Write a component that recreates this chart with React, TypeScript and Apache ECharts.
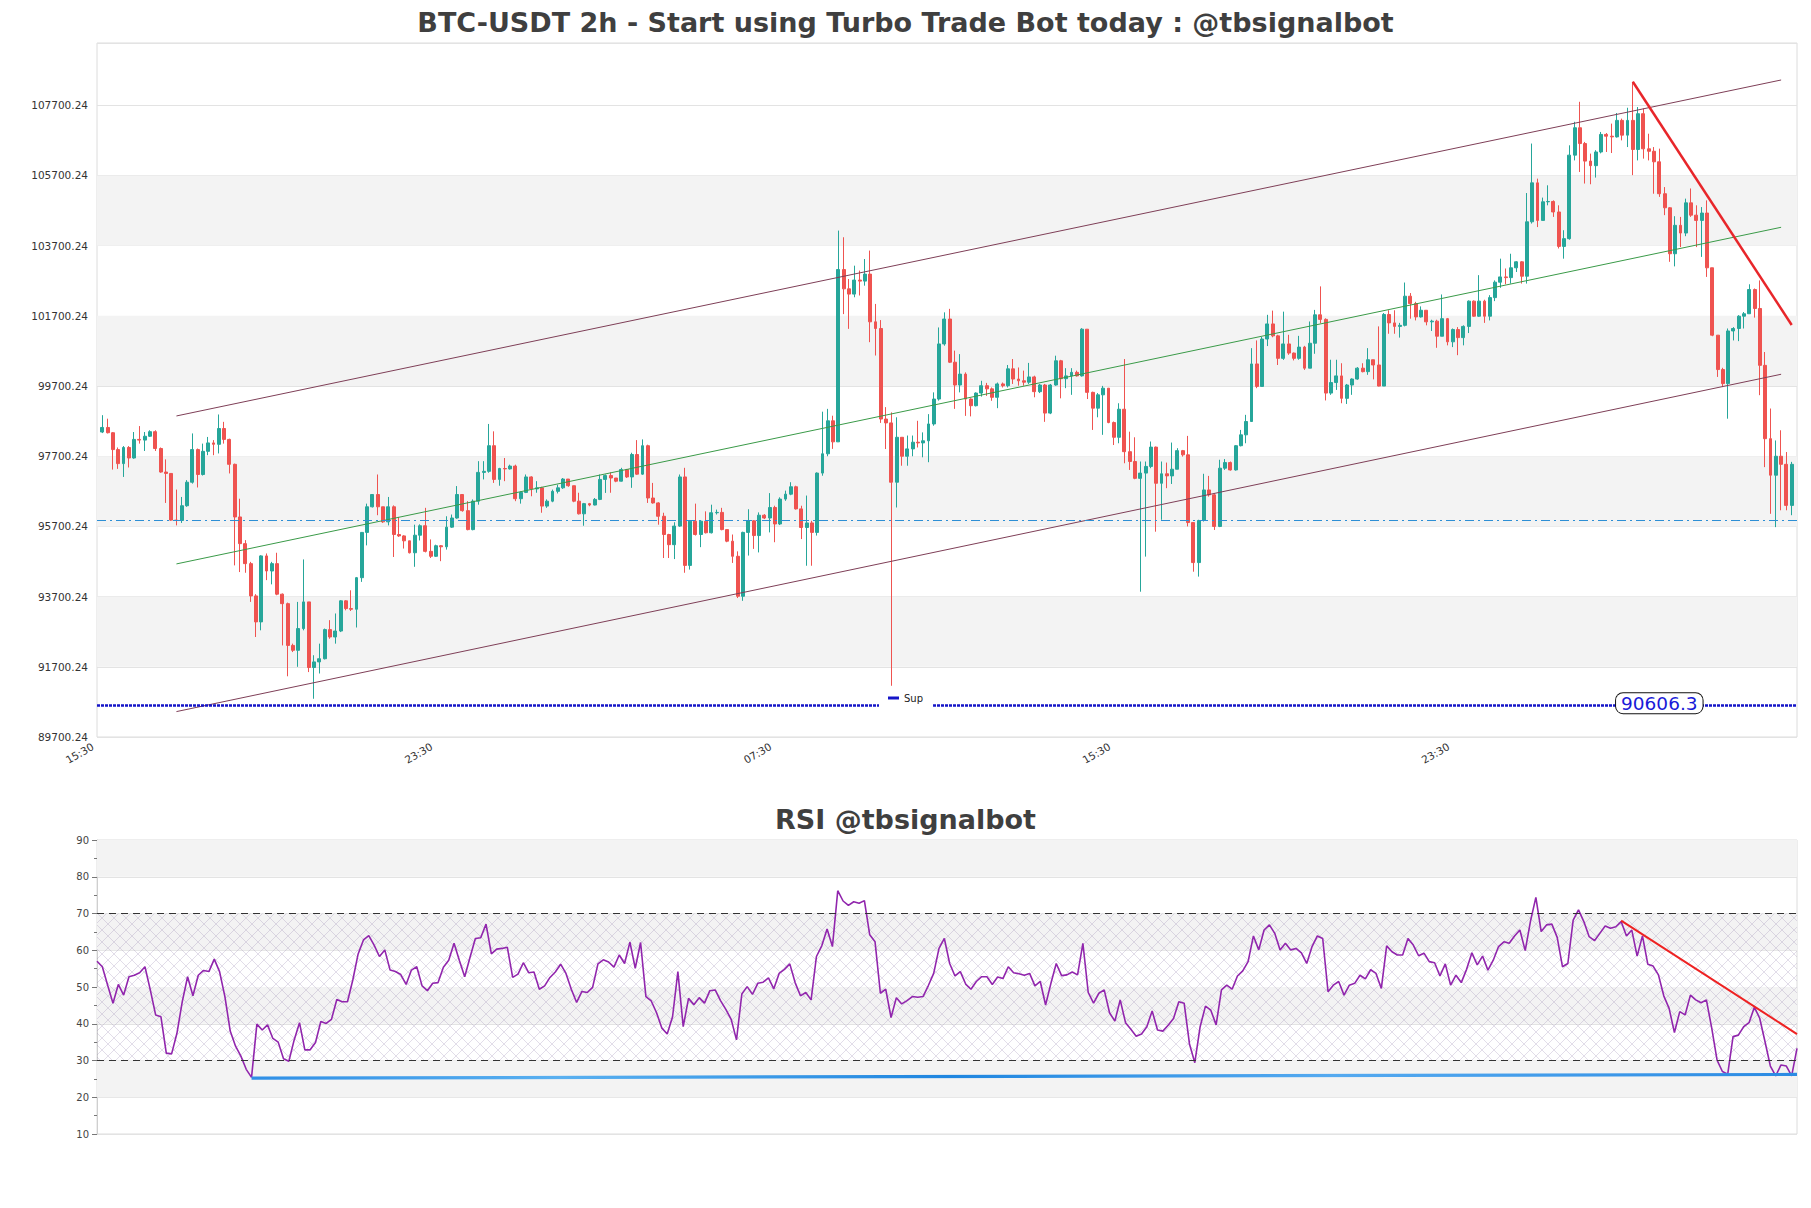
import React, { useEffect, useRef } from 'react';
import * as echarts from 'echarts';

// ---------- DATA ----------
const titleText = 'BTC-USDT 2h - Start using Turbo Trade Bot today : @tbsignalbot';
const rsiTitleText = 'RSI @tbsignalbot';

const firstOpen = 98390;
const closes = [
  98520, 98370, 97890, 97490, 97950, 97650, 98180, 98160, 98270, 98400,
  97920, 97250, 97210, 95880, 95870, 96290, 96960, 97890, 97180, 97840,
  98080, 98040, 98490, 98180, 97470, 95970, 95210, 94640, 93720, 92980,
  94860, 94430, 94640, 93770, 93500, 92310, 92170, 92790, 93550, 91680,
  91840, 91930, 92760, 92550, 92720, 93580, 93360, 93340, 94240, 95530,
  96260, 96610, 96260, 95830, 96260, 95470, 95430, 95290, 94950, 95450,
  95720, 94990, 94850, 95150, 95120, 95680, 95940, 96610, 96150, 95610,
  96420, 97240, 97270, 98000, 97040, 97350, 97340, 97420, 96490, 96670,
  97110, 96770, 96800, 96280, 96420, 96700, 96800, 97050, 96860, 96420,
  96060, 96350, 96310, 96470, 97040, 97150, 97080, 96990, 97320, 97110,
  97750, 97190, 98000, 96510, 96370, 95990, 95470, 95180, 95710, 97110,
  94590, 95850, 95470, 95850, 95520, 96090, 96100, 95610, 95280, 94850,
  93710, 95530, 95860, 95440, 96020, 95940, 96240, 95770, 96480, 96620,
  96830, 96200, 95670, 95800, 95530, 97220, 97770, 98710, 98110, 103020,
  102470, 102320, 102720, 102690, 102890, 101530, 101340, 98760, 98650, 96960,
  98240, 97700, 97910, 98100, 98080, 98140, 98620, 99330, 100900, 101610,
  100380, 99730, 100040, 99330, 99140, 99500, 99710, 99620, 99380, 99760,
  99710, 100190, 99900, 99850, 99810, 99960, 99540, 99730, 98930, 99730,
  100420, 99910, 99990, 100090, 99990, 101320, 99520, 99070, 99450, 99640,
  98660, 98240, 99040, 97830, 97550, 97070, 97220, 97410, 97960, 96930,
  97200, 97140, 97330, 97860, 97740, 95810, 94670, 95870, 96740, 96600,
  95700, 97360, 97520, 97310, 98000, 98310, 98690, 100330, 99690, 101040,
  101470, 101130, 100490, 100900, 100640, 100490, 100810, 100210, 100920, 101730,
  101600, 99500, 99800, 99990, 99350, 99730, 99900, 100210, 100110, 100450,
  100300, 99700, 101740, 101500, 101400, 101430, 102260, 102050, 101670, 101860,
  101530, 101550, 101120, 101620, 100960, 101310, 101080, 101400, 102120, 101690,
  102120, 101690, 102220, 102660, 102810, 102790, 103070, 103240, 102830, 104380,
  105490, 104420, 104950, 104960, 104660, 103680, 103900, 106280, 107060, 106610,
  106110, 105980, 106370, 106870, 106820, 106800, 107270, 106850, 107270, 106440,
  107460, 106460, 106390, 106090, 105180, 104780, 103470, 104280, 104060, 104920,
  104570, 104420, 104630, 103070, 101150, 100170, 99770, 101270, 101340, 101690,
  101760, 102450, 101910, 100290, 98200, 97160, 97700, 97470, 96300, 97470,
];
const highs = [
  98870, 98770, 98390, 97950, 97990, 97990, 98390, 98560, 98390, 98440,
  98440, 97950, 97610, 97210, 96750, 96540, 97020, 98350, 97920, 98060,
  98250, 98160, 98890, 98680, 98200, 97490, 96490, 95310, 94690, 93770,
  94880, 94930, 94690, 94950, 93790, 93530, 92360, 93550, 94760, 93550,
  92030, 92360, 92790, 93030, 93220, 93600, 93600, 93880, 94260, 95540,
  96350, 96610, 97180, 96260, 96540, 96300, 95970, 95450, 95290, 95750,
  95760, 96230, 95330, 95180, 95170, 95990, 96040, 96850, 96480, 96420,
  96470, 97560, 97560, 98620, 98410, 97370, 97650, 97460, 97460, 96700,
  97180, 97130, 96990, 96830, 96470, 96750, 96890, 97080, 97050, 96830,
  96660, 96370, 96370, 96510, 97180, 97180, 97240, 97050, 97370, 97340,
  97800, 98160, 98180, 98030, 96940, 96390, 96090, 95490, 95820, 97180,
  97370, 95880, 96350, 95880, 96130, 96320, 96180, 96230, 95590, 95470,
  94990, 95550, 96190, 95880, 96100, 96050, 96650, 96290, 96530, 96720,
  96960, 96860, 96290, 96580, 95860, 97240, 98970, 99050, 98855, 104130,
  103940, 102750, 103130, 102990, 103320, 103560, 102040, 101580, 99100, 98950,
  98810, 98190, 98290, 98290, 98710, 98380, 98900, 99520, 101370, 101800,
  101900, 100710, 100610, 100090, 99350, 99520, 99850, 99790, 99660, 99800,
  99800, 100300, 100470, 100230, 100140, 100360, 99995, 99760, 99760, 99760,
  100565, 100446, 100210, 100210, 100140, 101350, 101230, 99540, 99500, 99705,
  99640, 98690, 99210, 100470, 98400, 98240, 97550, 97550, 98120, 97976,
  97550, 97520, 98090, 97930, 97880, 98280, 95700, 95890, 97200, 97140,
  96646, 97600, 97620, 97550, 98020, 98450, 98880, 100780, 101000, 101100,
  101730, 101850, 101160, 101820, 101160, 100655, 101130, 100845, 101540, 101870,
  102540, 101630, 100450, 100450, 100350, 99760, 99920, 100240, 100350, 100780,
  100450, 101400, 101780, 101860, 101860, 101500, 102650, 102350, 102100, 101970,
  101860, 101590, 101590, 102310, 101640, 101340, 101380, 101430, 102140, 102140,
  102860, 102160, 102290, 102710, 103330, 103050, 103470, 103260, 103260, 105200,
  106610, 105610, 105070, 105420, 104990, 104850, 104140, 106560, 107230, 107800,
  106656, 106323, 106420, 106940, 106910, 107178, 107480, 107320, 107630, 108370,
  107650, 107610, 106890, 106510, 106465, 105370, 104800, 104540, 104520, 105040,
  105330, 104850, 104800, 104990, 102950, 101020, 100220, 101340, 101380, 101720,
  101810, 102600, 102480, 102710, 100670, 99060, 98150, 98440, 97820, 97540,
];
const lows = [
  98360, 98350, 97320, 97340, 97110, 97380, 97630, 98060, 97850, 98250,
  97850, 97230, 96370, 95860, 95730, 95800, 96260, 96920, 96810, 97150,
  97730, 97730, 97780, 98060, 97210, 94590, 94400, 94380, 93550, 92550,
  92740, 94170, 94050, 93740, 92310, 91430, 92120, 91700, 92740, 91550,
  90790, 91510, 91910, 92500, 92360, 92690, 93310, 93290, 92820, 94120,
  95160, 96240, 96020, 95800, 95730, 94830, 95400, 95070, 94930, 94550,
  95300, 94960, 94800, 94830, 94710, 95040, 95660, 95920, 96120, 95590,
  95590, 96320, 97040, 97230, 96940, 96860, 96990, 97320, 96420, 96350,
  96650, 96560, 96660, 96090, 96230, 96390, 96640, 96770, 96830, 96390,
  96040, 95720, 96275, 96300, 96450, 96655, 96660, 96960, 96980, 97080,
  96800, 97170, 97170, 96370, 96350, 95750, 94800, 94800, 94770, 95690,
  94380, 94470, 95440, 95110, 95500, 95500, 96040, 95590, 95250, 94660,
  93660, 93580, 94870, 95060, 94960, 95910, 95530, 95250, 95740, 96430,
  96590, 96180, 95340, 94580, 94580, 95440, 97145, 97700, 97910, 98140,
  101750, 101330, 102230, 102280, 102560, 100950, 100570, 98650, 97905, 91160,
  96240, 97430, 97430, 97700, 97950, 97670, 97530, 98570, 99285, 100850,
  100356, 99050, 99520, 98850, 98836, 99120, 99400, 99420, 99280, 99070,
  99660, 99660, 99760, 99710, 99710, 99760, 99380, 99500, 98680, 98900,
  99710, 99350, 99640, 99450, 99970, 99970, 99330, 98450, 98810, 98310,
  98640, 98020, 98070, 97500, 97310, 97045, 93840, 94840, 97360, 95550,
  95890, 96790, 96910, 97450, 97690, 95700, 94410, 94270, 95840, 96550,
  95600, 95680, 97310, 97290, 97290, 97980, 98070, 98690, 99640, 99705,
  100840, 101090, 100300, 100446, 100590, 100430, 100450, 100160, 100330, 100620,
  101490, 99290, 99450, 99590, 99210, 99190, 99450, 99880, 100090, 100020,
  99890, 99690, 99700, 101190, 101190, 101080, 101400, 101620, 101570, 101650,
  101430, 101270, 100790, 101120, 100860, 100810, 100580, 100860, 101210, 101670,
  101670, 101500, 101570, 102120, 102500, 102600, 102620, 102950, 102620, 102620,
  104330, 104230, 104420, 104850, 104520, 103620, 103330, 103870, 106130, 105800,
  105470, 105450, 105640, 106330, 106370, 106340, 106780, 106700, 106510, 105710,
  106130, 106180, 106130, 105180, 105090, 104570, 103240, 103110, 103660, 103970,
  104520, 103660, 103380, 102810, 101120, 99960, 99670, 98770, 101000, 100980,
  101340, 101760, 101650, 99440, 97390, 96060, 95680, 96160, 96160, 96020,
];
const rsiValues = [
  57, 55.5, 50.5, 45.6, 50.7, 47.8, 52.8, 53.2, 53.9, 55.5,
  49.2, 42.4, 41.9, 32, 31.8, 37.4, 46, 52.8, 47.6, 53.2,
  54.5, 54.2, 57.6, 54.2, 47.4, 38, 33.9, 31.2, 27.6, 25.4,
  39.9, 38.3, 39.7, 36, 35, 30.5, 29.8, 35.6, 40.3, 32.9,
  32.9, 34.9, 40.6, 40.1, 41.2, 46.6, 46, 46, 51.9, 59,
  62.8, 64, 61.4, 58.3, 60.1, 54.6, 54.2, 53.4, 50.7, 54.6,
  55.5, 50.3, 49, 51, 51.2, 55.4, 57.3, 61.9, 57.2, 52.8,
  58.1, 63.2, 63.4, 67.1, 59, 60.3, 60.5, 60.8, 52.6, 53.5,
  56.6, 53.9, 54.1, 49.4, 50.3, 52.6, 54.1, 56.2, 53.7, 49.4,
  45.8, 48.8, 48.5, 49.9, 56.3, 57.4, 56.8, 55.4, 58.7, 56.4,
  62.2, 55.1, 62.1, 47.4, 46.2, 43, 38.8, 37.2, 41.9, 54.2,
  39.2, 46.9, 45.2, 47.1, 45.6, 49, 49.2, 46.3, 43.9, 41.2,
  35.6, 48.1, 50.1, 48, 51, 51.3, 52.5, 49.5, 53.7, 54.8,
  56.3, 51.2, 47.6, 48.5, 46.5, 58.3, 61.2, 65.8, 61, 76.2,
  73.4, 72.2, 73.2, 72.8, 73.5, 64.2, 62.3, 48.3, 49.4, 41.7,
  47.1, 45.4, 46.3, 47.4, 47.2, 47.4, 50.4, 53.7, 60.5, 63.2,
  56.4, 53, 54.2, 50.8, 49.4, 51.5, 52.8, 52.8, 50.7, 52.7,
  52.3, 55.5, 53.9, 53.6, 53.2, 53.7, 50.3, 51.5, 45.1, 51,
  56.4, 53.1, 53.3, 54.1, 53.3, 61.9, 48.5, 45.6, 48.3, 49.2,
  43, 40.7, 46.5, 40.3, 38.5, 36.6, 37.2, 39.2, 43.5, 38.3,
  38, 39.6, 41.4, 46, 45.6, 34.5, 29.4, 39.2, 44.8, 43.7,
  39.7, 49.2, 50.5, 49.4, 53, 54.4, 56.9, 63.9, 60.1, 65.5,
  66.9, 64.6, 60.1, 61.9, 60.1, 60.5, 59.3, 56.4, 61, 63.9,
  63.2, 48.7, 50.5, 51.5, 47.8, 50.5, 51, 53.2, 52.2, 54.7,
  53.7, 49.6, 61.2, 59.6, 58.7, 58.7, 63.2, 61.4, 58.5, 59.2,
  56.9, 56.6, 53, 56.3, 50.5, 53.2, 51.2, 54.8, 59.3, 56,
  58.4, 54.6, 57.3, 61, 62.3, 61.9, 63.9, 65.5, 59.9, 68,
  74.4, 65.1, 66.9, 67.1, 63.5, 55.5, 56.4, 68.2, 71, 67.8,
  63.7, 62.6, 64.6, 66.6, 66, 66.4, 67.8, 63.9, 65.5, 58.4,
  63.9, 56.2, 55.7, 53.3, 47.6, 44.2, 37.6, 43.3, 42.4, 47.8,
  46.5, 45.7, 46.5, 38.8, 30.1, 27, 26.3, 36.5, 36.9, 39.2,
  40.3, 44.5, 41.5, 35.1, 28.5, 25.8, 28.8, 28.5, 25.8, 33.3,
];

const xTickLabels = ['15:30', '23:30', '07:30', '15:30', '23:30'];
const xTickIndex = [0, 64, 128, 192, 256];

const priceMin = 89700.24;
const priceMax = 109475;
const priceStep = 2000;
const priceBands = [
  [91700.24, 93700.24],
  [95700.24, 97700.24],
  [99700.24, 101700.24],
  [103700.24, 105700.24],
];
const supLevel = 90606.3;
const supLabel = '90606.3';
const supLabelIndex = 295;
const dashLevel = 95890;
const channelUpper = [[15, 98848], [318, 108421]];
const channelMid = [[15, 94632], [318, 104224]];
const channelLower = [[15, 90424], [318, 100036]];
const priceTrend = [[290, 108370], [320, 101440]];

const rsiBands = [[20, 30], [40, 50], [60, 70], [80, 90]];
const rsiHatch = [30, 70];
const rsiLevels = [70, 30];
const rsiSupport = [[29, 25.2], [319, 26.2]];
const rsiTrend = [[286, 68.05], [319, 37.2]];

// ---------- COMPONENT ----------
export default function App() {
  const ref = useRef<HTMLDivElement>(null);

  useEffect(() => {
    if (!ref.current) return;
    const chart = echarts.init(ref.current, undefined, { renderer: 'svg' });

    const candles = closes.map((c, i) => {
      const o = i === 0 ? firstOpen : closes[i - 1];
      return [o, c, Math.min(lows[i], o, c), Math.max(highs[i], o, c)];
    });
    const mainData: any[] = ['-', ...candles];
    const mainCats = Array.from({ length: closes.length + 2 }, (_, i) => String(i));
    const rsiCats = rsiValues.map((_, i) => String(i));

    const cvs = document.createElement('canvas');
    cvs.width = 12;
    cvs.height = 12;
    const ctx = cvs.getContext('2d');
    if (ctx) {
      ctx.strokeStyle = 'rgba(150,130,175,0.35)';
      ctx.lineWidth = 0.8;
      ctx.beginPath();
      ctx.moveTo(0, 0);
      ctx.lineTo(12, 12);
      ctx.moveTo(12, 0);
      ctx.lineTo(0, 12);
      ctx.stroke();
    }
    const hatch: any = { image: cvs, repeat: 'repeat' };

    const font = 'DejaVu Sans';
    const titleStyle = { fontSize: 27, fontWeight: 'bold' as const, color: '#3f3f3f', fontFamily: font };

    const option: any = {
      animation: false,
      textStyle: { fontFamily: font },
      title: [
        { text: titleText, left: 'center', top: 9, padding: 0, textStyle: titleStyle },
        { text: rsiTitleText, left: 'center', top: 806, padding: 0, textStyle: titleStyle },
      ],
      legend: {
        data: ['Sup'],
        left: 879,
        top: 688,
        padding: [5, 10, 5, 9],
        backgroundColor: '#ffffff',
        itemWidth: 11,
        itemHeight: 3,
        icon: 'rect',
        selectedMode: false,
        z: 20,
        textStyle: { fontSize: 10, color: '#222', fontFamily: font },
      },
      grid: [
        { left: 97, top: 43, width: 1700, height: 694, show: true, borderColor: '#dcdcdc', borderWidth: 1 },
        { left: 97, top: 840, width: 1700, height: 294, show: true, borderColor: '#dcdcdc', borderWidth: 1 },
      ],
      xAxis: [
        {
          type: 'category',
          gridIndex: 0,
          data: mainCats,
          boundaryGap: false,
          axisLine: { show: false },
          axisTick: { show: false },
          splitLine: { show: false },
          axisLabel: {
            interval: (i: number) => xTickIndex.includes(i),
            formatter: (_v: string, i: number) => {
              const j = xTickIndex.indexOf(i);
              return j >= 0 ? xTickLabels[j] : '';
            },
            rotate: 30,
            fontSize: 10.5,
            color: '#333',
            margin: 6,
            padding: [0, 5, 0, 0],
            fontFamily: font,
          },
        },
        {
          type: 'category',
          gridIndex: 1,
          data: rsiCats,
          boundaryGap: false,
          axisLine: { show: false },
          axisTick: { show: false },
          axisLabel: { show: false },
          splitLine: { show: false },
        },
      ],
      yAxis: [
        {
          type: 'value',
          gridIndex: 0,
          min: priceMin,
          max: priceMax,
          interval: priceStep,
          axisLine: { show: false },
          axisTick: { show: false },
          splitLine: { lineStyle: { color: '#e3e3e3', width: 1 } },
          axisLabel: {
            formatter: (v: number) => v.toFixed(2),
            fontSize: 10.5,
            color: '#333',
            margin: 9,
            showMaxLabel: false,
            fontFamily: font,
          },
        },
        {
          type: 'value',
          gridIndex: 1,
          min: 10,
          max: 90,
          interval: 10,
          axisLine: { show: true, lineStyle: { color: '#cfcfcf' } },
          axisTick: { show: true, length: 5, lineStyle: { color: '#777' } },
          minorTick: { show: true, splitNumber: 2, length: 3, lineStyle: { color: '#777' } },
          splitLine: { lineStyle: { color: '#e3e3e3', width: 1 } },
          axisLabel: { fontSize: 10, color: '#444', margin: 8, fontFamily: font },
        },
      ],
      series: [
        {
          type: 'line',
          xAxisIndex: 0,
          yAxisIndex: 0,
          data: [],
          z: -1,
          silent: true,
          markArea: {
            silent: true,
            itemStyle: { color: '#f3f3f3' },
            data: priceBands.map(([a, b]) => [{ yAxis: a }, { yAxis: b }]),
          },
        },
        {
          type: 'candlestick',
          name: 'BTC-USDT',
          xAxisIndex: 0,
          yAxisIndex: 0,
          data: mainData,
          barWidth: 3.4,
          z: 3,
          itemStyle: {
            color: '#26a69a',
            color0: '#ef5350',
            borderColor: '#26a69a',
            borderColor0: '#ef5350',
            borderWidth: 1,
          },
        },
        {
          type: 'line',
          xAxisIndex: 0,
          yAxisIndex: 0,
          data: [],
          silent: true,
          markLine: {
            silent: true,
            symbol: 'none',
            label: { show: false },
            lineStyle: { color: '#2d8fd5', width: 1.2, type: [9, 4, 2, 4] },
            data: [{ yAxis: dashLevel }],
          },
        },
        ...[channelUpper, channelLower].map((d) => ({
          type: 'line',
          xAxisIndex: 0,
          yAxisIndex: 0,
          data: d,
          symbol: 'none',
          silent: true,
          z: 4,
          lineStyle: { color: '#7e3f57', width: 1 },
        })),
        {
          type: 'line',
          xAxisIndex: 0,
          yAxisIndex: 0,
          data: channelMid,
          symbol: 'none',
          silent: true,
          z: 4,
          lineStyle: { color: '#3a9a48', width: 1 },
        },
        {
          type: 'line',
          xAxisIndex: 0,
          yAxisIndex: 0,
          data: priceTrend,
          symbol: 'none',
          silent: true,
          z: 5,
          lineStyle: { color: '#e8262a', width: 2.5 },
        },
        {
          type: 'line',
          name: 'Sup',
          xAxisIndex: 0,
          yAxisIndex: 0,
          data: [],
          color: '#1515c8',
          itemStyle: { color: '#1515c8' },
          lineStyle: { color: '#1515c8' },
          z: 3,
          markLine: {
            silent: true,
            symbol: 'none',
            label: { show: false },
            lineStyle: { color: '#1515c8', width: 2.5, type: [3, 1] },
            data: [{ yAxis: supLevel }],
          },
          markPoint: {
            silent: true,
            symbol: 'rect',
            symbolSize: 1,
            itemStyle: { color: 'rgba(0,0,0,0)' },
            data: [{ coord: [String(supLabelIndex), supLevel], value: supLevel }],
            label: {
              show: true,
              position: 'inside',
              offset: [0, -2],
              formatter: supLabel,
              fontSize: 18.5,
              color: '#1a1ad8',
              fontFamily: font,
              backgroundColor: '#ffffff',
              borderColor: '#111',
              borderWidth: 1,
              borderRadius: 7,
              padding: [1, 5, 0, 5],
              lineHeight: 19,
            },
          },
        },
        // RSI panel
        {
          type: 'line',
          xAxisIndex: 1,
          yAxisIndex: 1,
          data: [],
          z: -1,
          silent: true,
          markArea: {
            silent: true,
            data: [
              ...rsiBands.map(([a, b]) => [
                { yAxis: a, itemStyle: { color: '#f3f3f3' } },
                { yAxis: b },
              ]),
              [{ yAxis: rsiHatch[0], itemStyle: { color: hatch } }, { yAxis: rsiHatch[1] }],
            ],
          },
        },
        {
          type: 'line',
          xAxisIndex: 1,
          yAxisIndex: 1,
          data: rsiValues,
          symbol: 'none',
          silent: true,
          z: 4,
          lineStyle: { color: '#9126ad', width: 1.6 },
          markLine: {
            silent: true,
            symbol: 'none',
            label: { show: false },
            lineStyle: { color: '#333', width: 1.2, type: [7, 5] },
            data: rsiLevels.map((v) => ({ yAxis: v })),
          },
        },
        {
          type: 'line',
          xAxisIndex: 1,
          yAxisIndex: 1,
          data: rsiSupport,
          symbol: 'none',
          silent: true,
          z: 5,
          lineStyle: {
            width: 3.2,
            color: {
              type: 'linear',
              x: 0,
              y: 0,
              x2: 1,
              y2: 0,
              colorStops: [
                { offset: 0, color: '#2f8fe6' },
                { offset: 0.2, color: '#5ab0f0' },
                { offset: 0.45, color: '#1f86e0' },
                { offset: 0.7, color: '#55aaf0' },
                { offset: 1, color: '#2b8be3' },
              ],
            },
          },
        },
        {
          type: 'line',
          xAxisIndex: 1,
          yAxisIndex: 1,
          data: rsiTrend,
          symbol: 'none',
          silent: true,
          z: 6,
          lineStyle: { color: '#ee2222', width: 2 },
        },
      ],
    };

    chart.setOption(option);
    return () => chart.dispose();
  }, []);

  return (
    <div
      ref={ref}
      style={{ position: 'absolute', left: 0, top: 0, width: 1811, height: 1208, background: '#ffffff' }}
    />
  );
}
